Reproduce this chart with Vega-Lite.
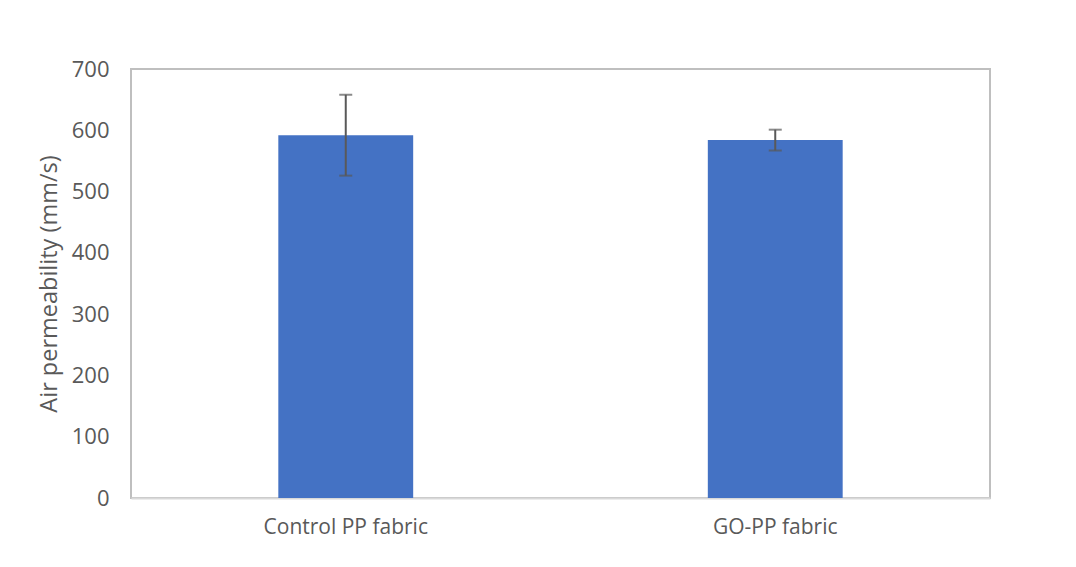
{
  "$schema": "https://vega.github.io/schema/vega-lite/v6.json",
  "autosize": {"type": "none"},
  "padding": {"left": 131, "top": 69, "right": 86, "bottom": 69},
  "width": 859,
  "height": 429,
  "background": "white",
  "config": {
    "view": {"stroke": "#bfbfbf", "strokeWidth": 2},
    "font": "Open Sans"
  },
  "data": {
    "values": [
      {"fabric": "Control PP fabric", "value": 592, "lo": 526, "hi": 658},
      {"fabric": "GO-PP fabric", "value": 584, "lo": 567, "hi": 601}
    ]
  },
  "encoding": {
    "x": {
      "field": "fabric",
      "type": "nominal",
      "sort": null,
      "scale": {"paddingInner": 0.686, "paddingOuter": 0.343},
      "axis": {
        "title": null,
        "labelAngle": 0,
        "labelFontSize": 21,
        "labelColor": "#595959",
        "labelPadding": 18,
        "ticks": false,
        "domainColor": "#d9d9d9",
        "domainWidth": 2
      }
    }
  },
  "layer": [
    {
      "mark": {"type": "bar", "color": "#4472C4"},
      "encoding": {
        "y": {
          "field": "value",
          "type": "quantitative",
          "scale": {"domain": [0, 700]},
          "axis": {
            "title": "Air permeability (mm/s)",
            "titleFontSize": 23.5,
            "titleFontWeight": "normal",
            "titleColor": "#595959",
            "titlePadding": 10,
            "labelFontSize": 22,
            "labelColor": "#595959",
            "labelPadding": 22,
            "ticks": false,
            "domain": false,
            "grid": false,
            "values": [0, 100, 200, 300, 400, 500, 600, 700]
          }
        }
      }
    },
    {
      "mark": {"type": "rule", "color": "#595959", "strokeWidth": 2},
      "encoding": {
        "y": {"field": "lo", "type": "quantitative"},
        "y2": {"field": "hi"}
      }
    },
    {
      "mark": {"type": "tick", "color": "#595959", "thickness": 2, "size": 13, "orient": "horizontal"},
      "encoding": {"y": {"field": "lo", "type": "quantitative"}}
    },
    {
      "mark": {"type": "tick", "color": "#595959", "thickness": 2, "size": 13, "orient": "horizontal"},
      "encoding": {"y": {"field": "hi", "type": "quantitative"}}
    }
  ]
}
